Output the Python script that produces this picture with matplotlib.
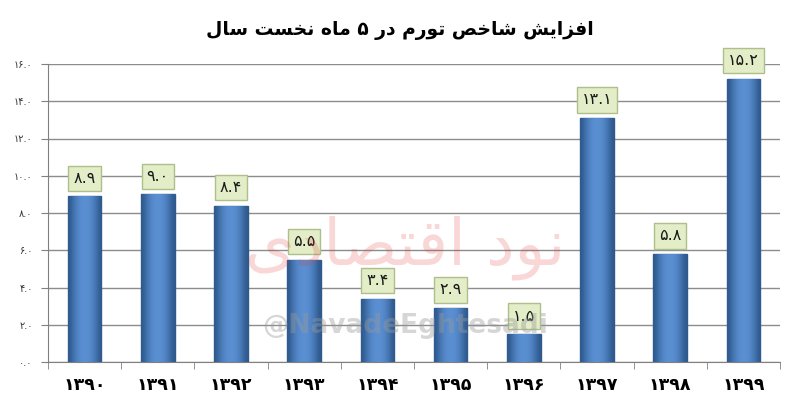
import matplotlib
matplotlib.use('Agg')
import matplotlib.pyplot as plt
import numpy as np

# data
years = ['1390', '1391', '1392', '1393', '1394', '1395', '1396', '1397', '1398', '1399']
values = [8.9, 9.0, 8.4, 5.5, 3.4, 2.9, 1.5, 13.1, 5.8, 15.2]
y_ticks = [0, 2, 4, 6, 8, 10, 12, 14, 16]
title = 'افزایش شاخص تورم در ۵ ماه نخست سال'
watermark = 'نود اقتصادی'
handle = '@NavadeEghtesadi'

FA_DIGITS = str.maketrans('0123456789', '۰۱۲۳۴۵۶۷۸۹')

# contextual forms: (isolated, final, initial, medial)
FORMS = {
    'ا': ('\uFE8D', '\uFE8E'),
    'د': ('\uFEA9', '\uFEAA'),
    'ر': ('\uFEAD', '\uFEAE'),
    'ز': ('\uFEAF', '\uFEB0'),
    'و': ('\uFEED', '\uFEEE'),
    'ت': ('\uFE95', '\uFE96', '\uFE97', '\uFE98'),
    'خ': ('\uFEA5', '\uFEA6', '\uFEA7', '\uFEA8'),
    'س': ('\uFEB1', '\uFEB2', '\uFEB3', '\uFEB4'),
    'ش': ('\uFEB5', '\uFEB6', '\uFEB7', '\uFEB8'),
    'ص': ('\uFEB9', '\uFEBA', '\uFEBB', '\uFEBC'),
    'ف': ('\uFED1', '\uFED2', '\uFED3', '\uFED4'),
    'ق': ('\uFED5', '\uFED6', '\uFED7', '\uFED8'),
    'ل': ('\uFEDD', '\uFEDE', '\uFEDF', '\uFEE0'),
    'م': ('\uFEE1', '\uFEE2', '\uFEE3', '\uFEE4'),
    'ن': ('\uFEE5', '\uFEE6', '\uFEE7', '\uFEE8'),
    'ه': ('\uFEE9', '\uFEEA', '\uFEEB', '\uFEEC'),
    'ی': ('\uFBFC', '\uFBFD', '\uFBFE', '\uFBFF'),
}


def shape(s):
    """Very small Persian shaper: pick joined forms, then reverse for display."""
    out = []
    for i, c in enumerate(s):
        f = FORMS.get(c)
        if f is None:
            out.append(c)
            continue
        prev = s[i - 1] if i > 0 else ''
        nxt = s[i + 1] if i + 1 < len(s) else ''
        jp = prev in FORMS and len(FORMS[prev]) == 4
        jn = len(f) == 4 and nxt in FORMS
        if jp and jn:
            out.append(f[3])
        elif jp:
            out.append(f[1])
        elif jn:
            out.append(f[2])
        else:
            out.append(f[0])
    return ''.join(reversed(out))


plt.rcParams['font.family'] = ['DejaVu Sans']

fig = plt.figure(figsize=(7.94, 4.01), dpi=100)
ax = fig.add_axes([48 / 794, 39 / 401, 732 / 794, 298 / 401])

x = np.arange(len(years))
bars = ax.bar(x, values, width=0.46, color='#4a7dbd', edgecolor='#30598a',
              linewidth=1.0, zorder=3)

# horizontal shading inside each bar (dark edges, lighter middle)
shade = np.array([[0.0, 0.55, 0.85, 1.0, 1.0, 0.85, 0.55, 0.0]])
cmap = matplotlib.colors.LinearSegmentedColormap.from_list(
    'bar', ['#2f5a8f', '#5a8fd2'])
for b in bars:
    im = ax.imshow(shade, cmap=cmap, aspect='auto', zorder=3.5,
                   extent=(b.get_x(), b.get_x() + b.get_width(), 0, b.get_height()),
                   interpolation='bicubic')
    im.set_clip_path(b)

for xi, v in zip(x, values):
    ax.annotate(f'{v:.1f}'.translate(FA_DIGITS), (xi, v),
                xytext=(0, 13), textcoords='offset points',
                ha='center', va='center', fontsize=11.5, color='#1a1a1a',
                zorder=5,
                bbox=dict(boxstyle='square,pad=0.32', facecolor='#e3edc7',
                          edgecolor='#aebf8a', linewidth=1))

ax.set_xlim(-0.5, len(years) - 0.5)
ax.set_ylim(0, 16)
ax.set_yticks(y_ticks)
ax.set_yticklabels([f'{t:.1f}'.translate(FA_DIGITS) for t in y_ticks],
                   fontsize=7, color='#333333')
ax.set_xticks(x)
ax.set_xticklabels([y.translate(FA_DIGITS) for y in years],
                   fontsize=12.5, fontweight='bold')
ax.set_xticks(np.arange(len(years) + 1) - 0.5, minor=True)
ax.tick_params(axis='x', which='major', length=0, pad=10)
ax.tick_params(axis='x', which='minor', length=5, color='#808080')
ax.tick_params(axis='y', length=5, color='#808080', pad=6)

ax.grid(axis='y', color='#8c8c8c', linewidth=1, zorder=0)
for side in ['top', 'right']:
    ax.spines[side].set_visible(False)
for side in ['left', 'bottom']:
    ax.spines[side].set_color('#808080')

fig.text(400 / 794, 1 - 30 / 401, shape(title), ha='center', va='center',
         fontsize=13.5, fontweight='bold')

# watermark
fig.text(405 / 794, 1 - 248 / 401, shape(watermark), ha='center', va='center',
         fontsize=46, color='#e23b3b', alpha=0.2, zorder=1)
fig.text(405 / 794, 1 - 326 / 401, handle, ha='center', va='center',
         fontsize=19, fontweight='bold', color='#9a9a9a', alpha=0.4)

fig.savefig('out.png', dpi=100)
